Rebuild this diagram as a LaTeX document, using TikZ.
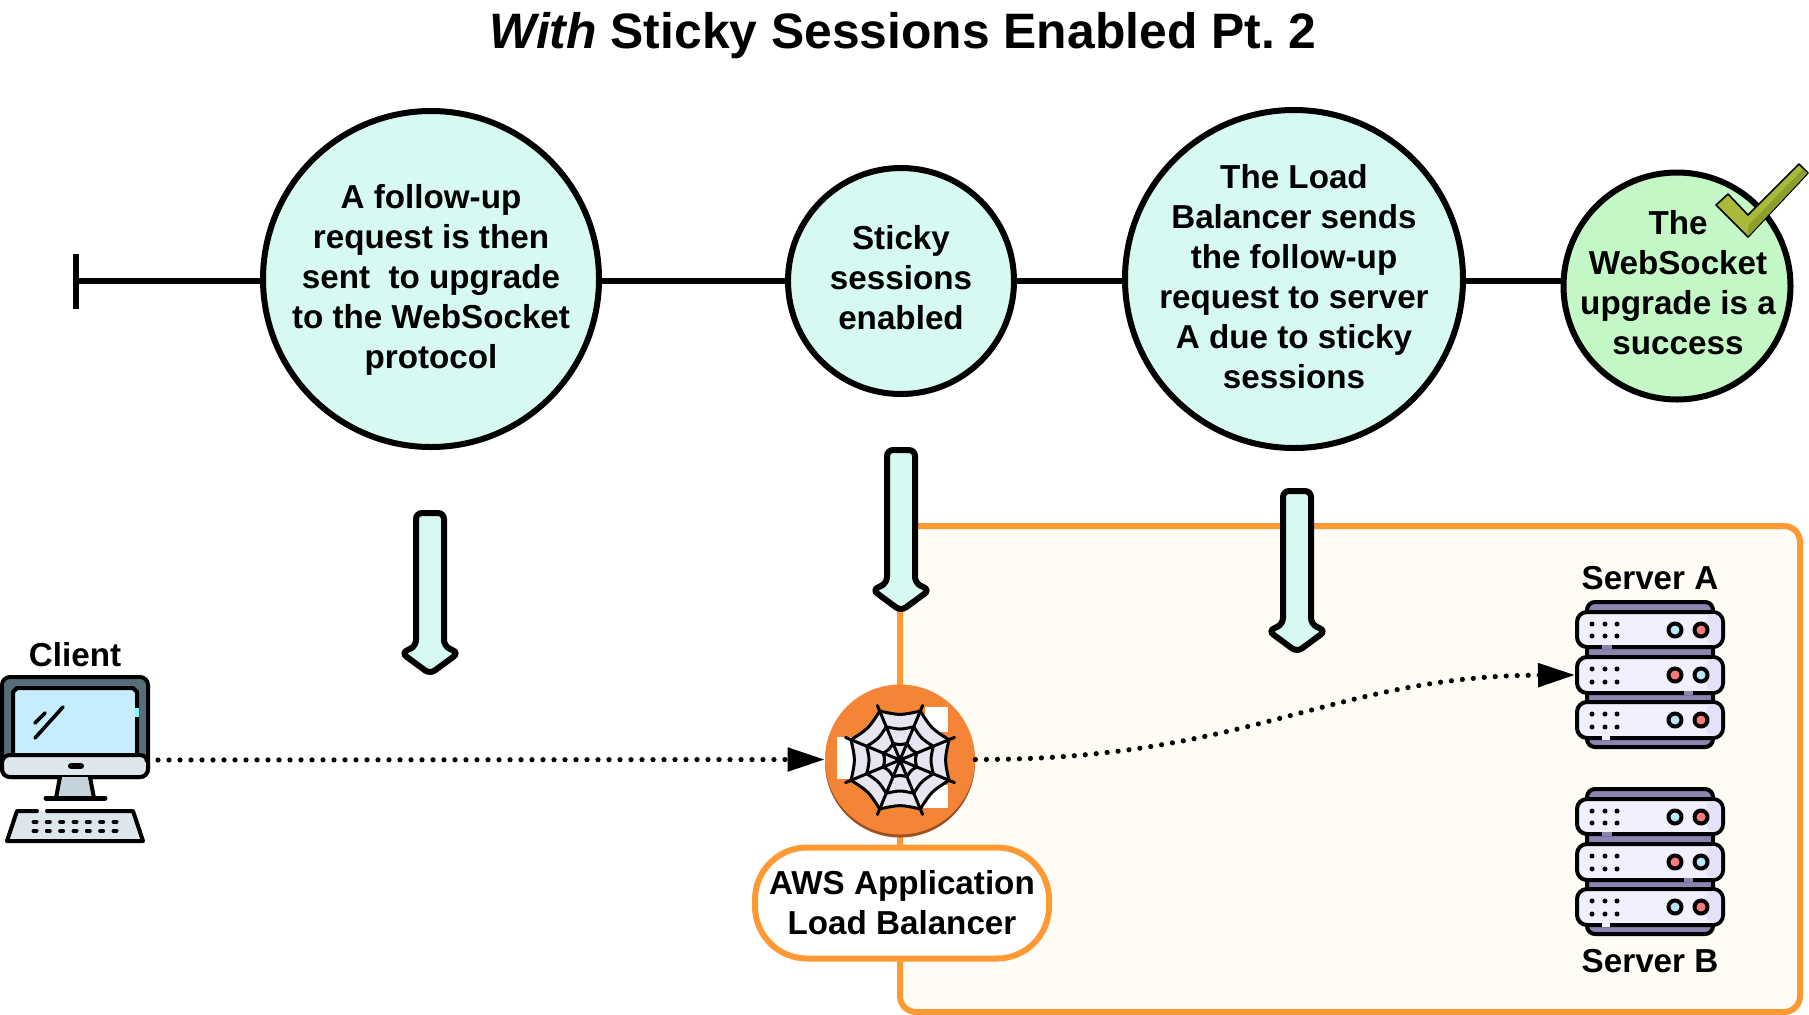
\documentclass[tikz,border=0pt]{standalone}
\usepackage{fontspec}
\setmainfont{Liberation Sans}
\usetikzlibrary{arrows.meta}
\frenchspacing

\definecolor{stepfill}{HTML}{D6F9F1}
\definecolor{donefill}{HTML}{C4F7C6}
\definecolor{boxorange}{HTML}{FF9933}
\definecolor{boxfill}{HTML}{FFFCF5}
\definecolor{albfill}{HTML}{F58536}
\definecolor{albshade}{HTML}{9D5025}
\definecolor{webfill}{HTML}{E6E6F0}
\definecolor{checkfill}{HTML}{A9B93A}
\definecolor{checkdark}{HTML}{8C9E2C}
\definecolor{srvback}{HTML}{8A84B0}
\definecolor{srvfront}{HTML}{F0F0FE}
\definecolor{srvside}{HTML}{E3E2F8}
\definecolor{ledblue}{HTML}{B8E8F8}
\definecolor{ledred}{HTML}{FF7B7B}
\definecolor{pcframe}{HTML}{566E7A}
\definecolor{pcscreen}{HTML}{C5EDFD}
\definecolor{pcbar}{HTML}{DDE6EB}
\definecolor{pcstand}{HTML}{C5D3DC}

\tikzset{
	labeltext/.style={font=\fontsize{16.6}{20}\selectfont\bfseries, align=center, inner sep=0pt},
	stepcircle/.style={circle, draw=black, line width=3pt, fill=stepfill, inner sep=0pt},
	timeline/.style={line width=3pt},
	bigarrow/.style={draw=black, line width=3pt, fill=stepfill, rounded corners=3pt},
	flow/.style={line width=2.6pt, line cap=round, dash pattern=on 0pt off 5.5pt, -{Triangle[length=18.5pt, width=11.5pt]}},
	icon/.style={draw=black, line width=2pt, line cap=round, line join=round}
}

\newcommand{\downarrowat}[3]{
	\draw[bigarrow] (#1-14,#2) -- (#1+14,#2) -- (#1+14,#3-28) -- (#1+28.5,#3-21) -- (#1,#3) -- (#1-28.5,#3-21) -- (#1-14,#3-28) -- cycle;
}

\newcommand{\serverstack}[1]{
	\begin{scope}[shift={(0,#1)}]
		\draw[icon, fill=srvback, rounded corners=4pt] (1587,602) rectangle (1713,747);
		\foreach \ytop/\ybot/\ledl/\ledr/\gapa/\gapb/\gapc in {612/647/ledblue/ledred/1602/1612/srvback, 657/693/ledred/ledblue/1684/1693/srvback, 702/738/ledblue/ledred/1602/1610/srvfront} {
			\draw[icon, fill=srvfront, rounded corners=5pt] (1577,\ytop) rectangle (1723,\ybot);
			\fill[srvside, rounded corners=4pt] (1706,\ytop+2) rectangle (1721,\ybot-2);
			\foreach \dotx in {1592,1605,1617} {
				\fill (\dotx,\ytop+12) circle (1.25pt);
				\fill (\dotx,\ybot-11) circle (1.25pt);
			}
			\draw[icon, fill=\ledl] (1675,\ytop+18) circle (3.25pt);
			\draw[icon, fill=\ledr] (1701,\ytop+18) circle (3.25pt);
			\draw[color=\gapc, line width=2pt] (\gapa,\ybot) -- (\gapb,\ybot);
		}
	\end{scope}
}

\begin{document}
\begin{tikzpicture}[x=0.5pt, y=-0.5pt]
	\useasboundingbox (0,0) rectangle (1809,1014);

	\node[font=\fontsize{24.9}{30}\selectfont\bfseries, inner sep=0pt] (title) at (903,36) {\textit{With} Sticky Sessions Enabled Pt. 2};

	\draw[draw=boxorange, fill=boxfill, line width=3pt, rounded corners=8pt] (900,526) rectangle (1800,1012);

	\coordinate (barup) at (76,254);
	\coordinate (bardown) at (76,309);
	\coordinate (start) at (76,281);
	\draw[timeline] (barup) -- (bardown);
	\node[stepcircle, minimum size=168pt] (request) at (431,279) {};
	\node[stepcircle, minimum size=113pt] (sticky) at (901,281) {};
	\node[stepcircle, minimum size=169pt] (sends) at (1294,279) {};
	\node[stepcircle, fill=donefill, minimum size=113.5pt] (success) at (1677,286) {};
	\draw[timeline] (start) -- (request.west |- start);
	\draw[timeline] (request.east |- start) -- (sticky.west |- start);
	\draw[timeline] (sticky.east |- start) -- (sends.west |- start);
	\draw[timeline] (sends.east |- start) -- (success.west |- start);
	\node[labeltext] (requesttext) at (431,280) {A follow-up\\request is then\\sent\ \ to upgrade\\to the WebSocket\\protocol};
	\node[labeltext] (stickytext) at (901,277.5) {Sticky\\sessions\\enabled};
	\node[labeltext] (sendstext) at (1294,277) {The Load\\Balancer sends\\the follow-up\\request to server\\A due to sticky\\sessions};
	\node[labeltext] (successtext) at (1678,282.5) {The\\WebSocket\\upgrade is a\\success};

	\draw[draw=black, line width=0.8pt, fill=checkfill, line join=round] (1716,205) -- (1728,194) -- (1748,215) -- (1799,164) -- (1808,173) -- (1748,237) -- cycle;
	\fill[checkdark] (1748,226) -- (1803,169) -- (1807.5,173) -- (1748,236.5) -- cycle;

	\downarrowat{430}{513}{674}
	\downarrowat{901}{450}{611}
	\downarrowat{1297}{491}{652}

	\node[labeltext] (clientlabel) at (75,655) {Client};
	\draw[icon, fill=pcframe, rounded corners=4pt] (2,677) rectangle (148,777);
	\draw[icon, fill=pcscreen] (13,755) -- (13,692) -- (17,688) -- (133,688) -- (137,692) -- (137,755);
	\draw[color=pcscreen!70!cyan, line width=2pt] (137,708) -- (137,717);
	\draw[icon, fill=pcbar, rounded corners=4pt] (2,755) -- (148,755) -- (148,777) -- (2,777) -- cycle;
	\draw[icon, line width=3pt] (71,766) -- (81,766);
	\draw[icon, fill=pcstand] (60,777) -- (56,798) -- (94,798) -- (90,777);
	\draw[icon, line width=2.5pt] (46,798) -- (105,798);
	\draw[icon, line width=1.8pt] (35,723) -- (45,713);
	\draw[icon, line width=1.8pt] (35,738) -- (63,707);
	\fill[pcbar] (17,811) -- (133,811) -- (143,841) -- (7,841) -- cycle;
	\draw[icon] (37,811) -- (17,811) -- (7,841) -- (143,841) -- (133,811) -- (47,811);
	\foreach \keyx in {35,48.3,61.6,75,88.3,101.6,115} {
		\draw[line width=2pt, line cap=round] (\keyx-1.5,822) -- (\keyx+1.5,822);
		\draw[line width=2pt, line cap=round] (\keyx-1.5,831) -- (\keyx+1.5,831);
	}
	\coordinate (client) at (147,760);

	\fill[albshade] (900,762.5) circle (37.5pt);
	\node[circle, fill=albfill, minimum size=75pt, inner sep=0pt] (alb) at (900,759.5) {};
	\fill[white] (837,737) rectangle (853,779);
	\fill[white] (925,707) rectangle (948,732);
	\fill[white] (923,785) rectangle (948,808);
	\begin{scope}[shift={(900,760)}]
		\foreach \a in {22.5,67.5,...,337.5} {
			\fill[webfill] (0,0) -- (\a:53) .. controls (\a+22.5:44.5) .. (\a+45:53) -- cycle;
		}
		\foreach \a in {22.5,67.5,...,337.5} {
			\draw[line width=1.5pt, line cap=round] (0,0) -- (\a:59);
			\foreach \r in {18,36,53} {
				\draw[line width=1.5pt, line cap=round] (\a:\r) .. controls (\a+22.5:\r*0.84) .. (\a+45:\r);
			}
		}
	\end{scope}

	\node[labeltext, draw=boxorange, fill=white, line width=3pt, minimum width=147pt, minimum height=55.5pt, rounded corners=26pt] (alblabel) at (902,903) {AWS Application\\Load Balancer};

	\serverstack{0}
	\serverstack{187}
	\node[labeltext] (serverA) at (1650,578) {Server A};
	\node[labeltext] (serverB) at (1650,961) {Server B};
	\coordinate (stacka) at (1575,675);

	\draw[flow] (client) -- (alb.west);
	\draw[flow] (alb.east) .. controls (1250,760) and (1330,676) .. (stacka);
\end{tikzpicture}
\end{document}
